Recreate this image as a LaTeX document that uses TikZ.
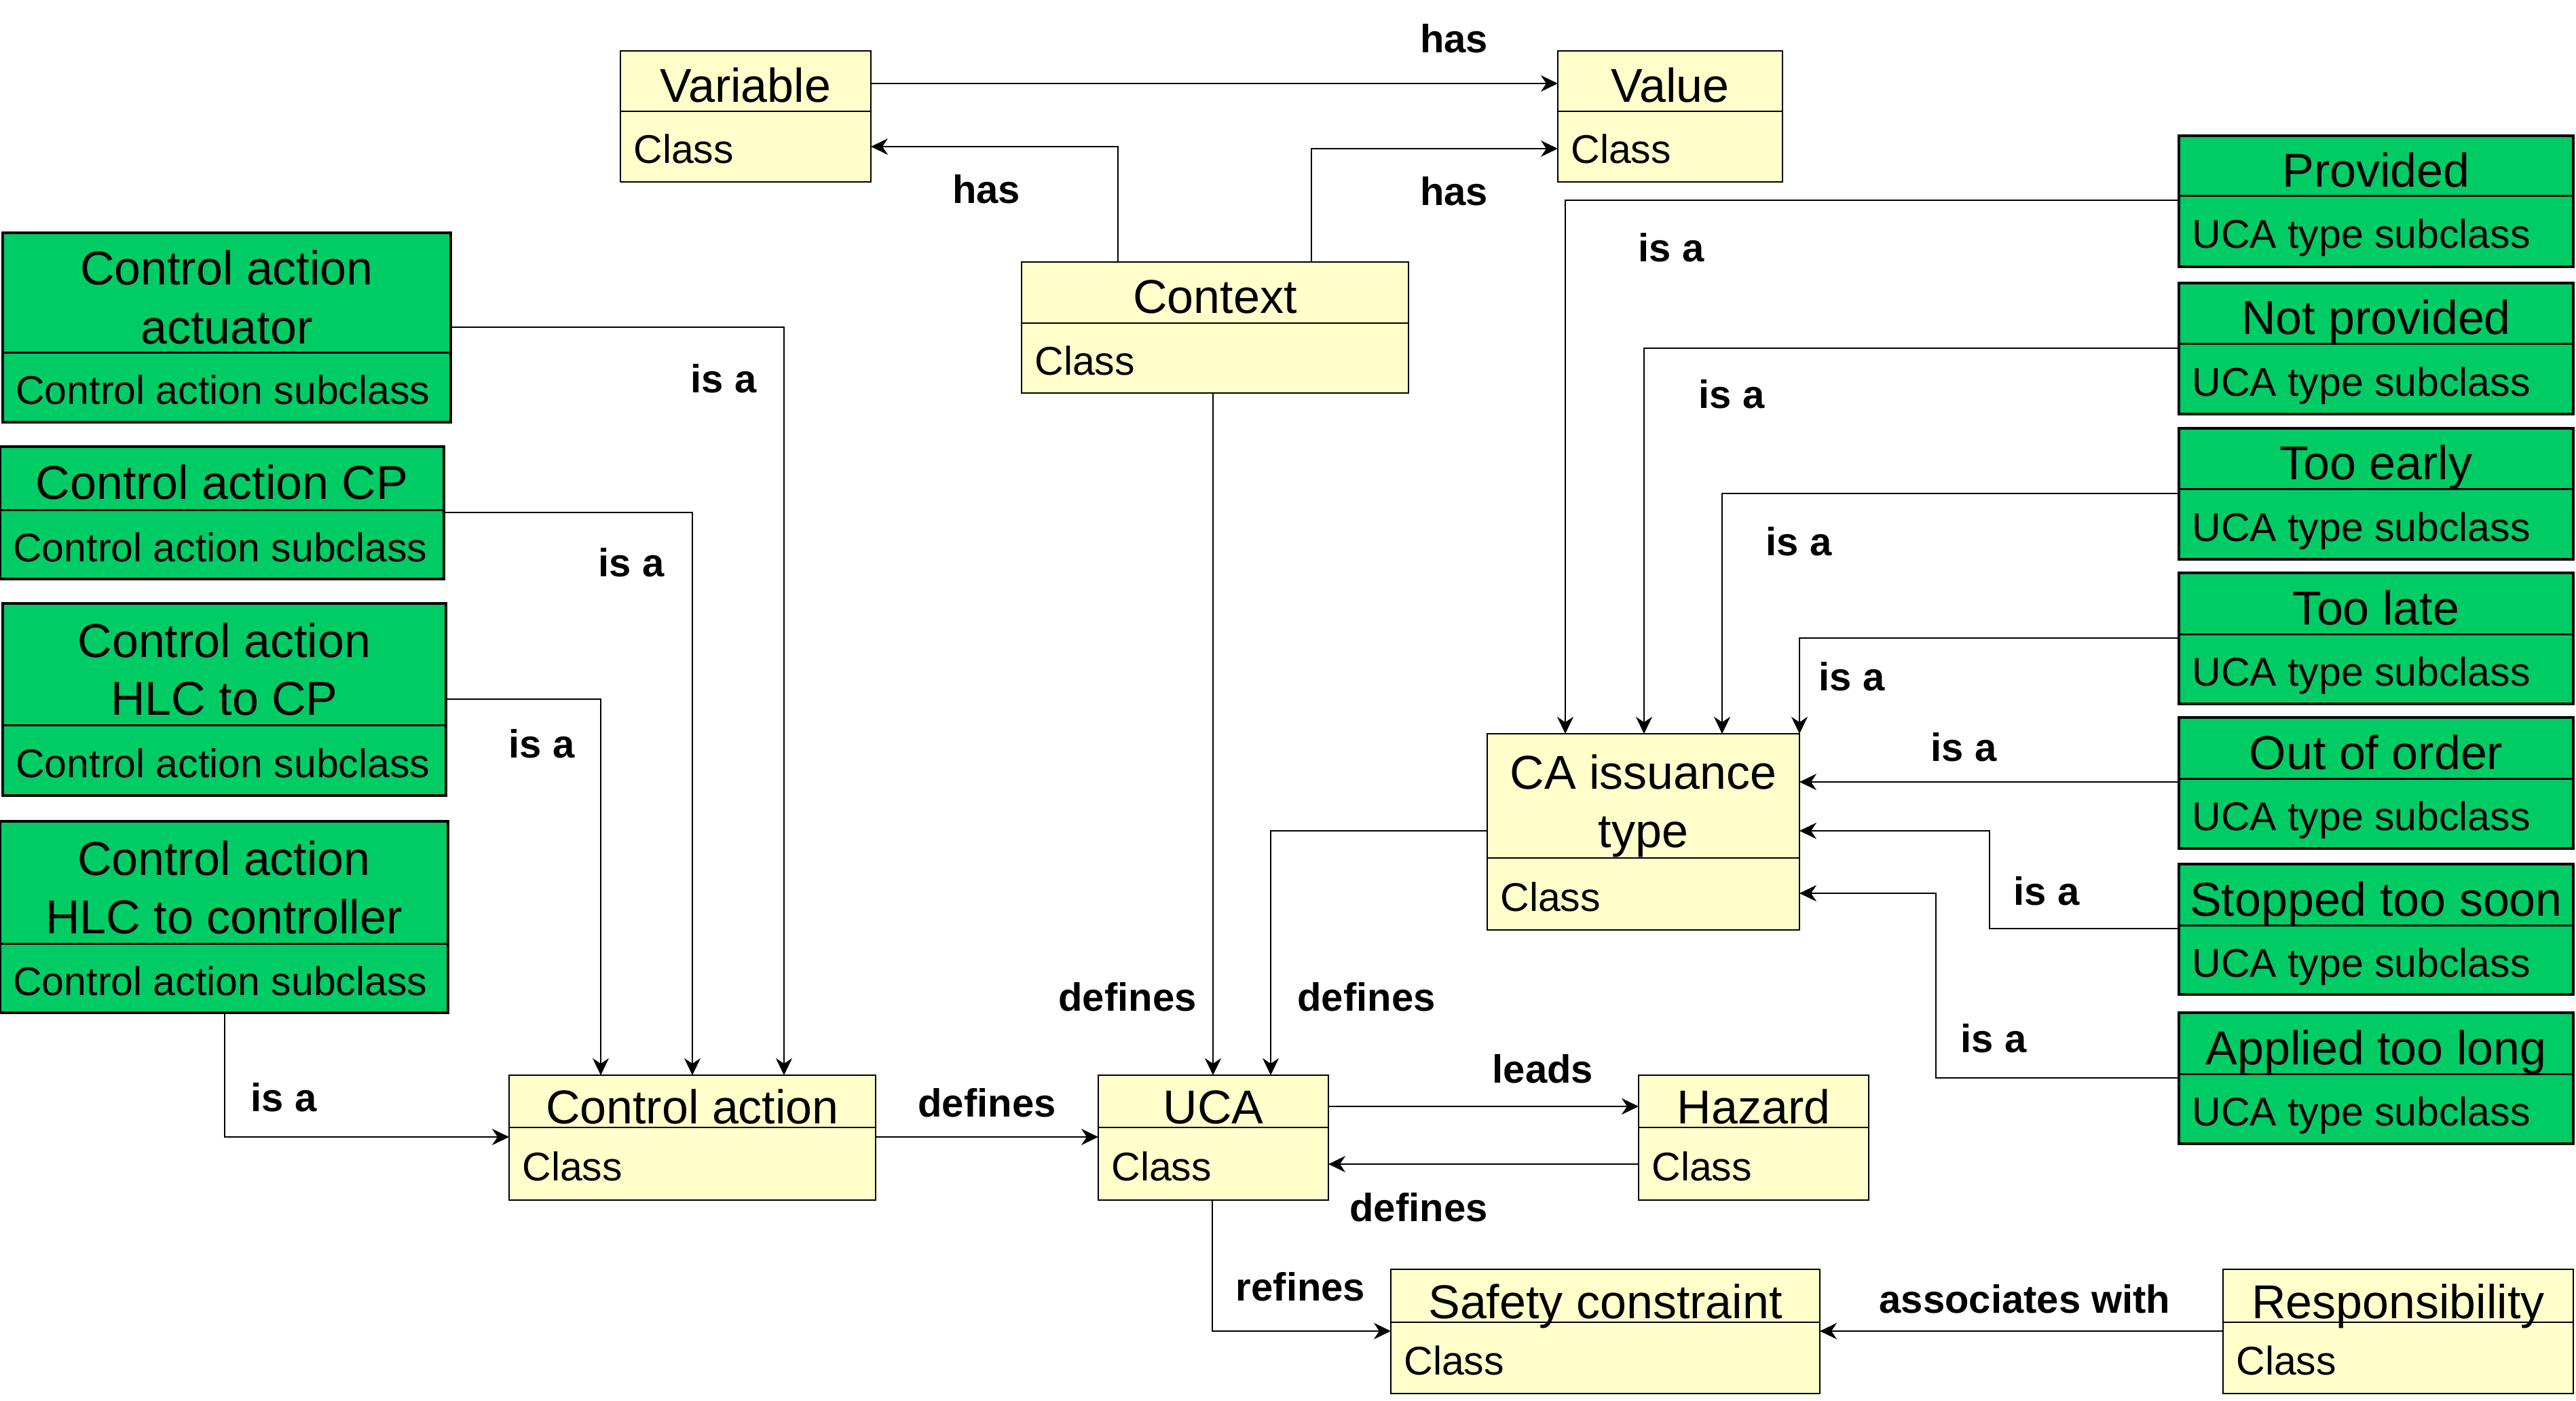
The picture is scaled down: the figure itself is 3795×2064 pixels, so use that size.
\documentclass[tikz,border=0pt]{standalone}
\usepackage{fontspec}
\setmainfont{Liberation Sans}
\usetikzlibrary{arrows.meta}
\definecolor{ayellow}{HTML}{FFFFCC}
\definecolor{agreen}{HTML}{00CC66}
\tikzset{
  ybox/.style={draw=black, fill=ayellow, line width=1.2pt, inner sep=0pt, outer sep=0pt},
  gbox/.style={draw=black, fill=agreen, line width=1.8pt, inner sep=0pt, outer sep=0pt},
  yboxdiv/.style={draw=black, line width=1.1pt},
  gboxdiv/.style={draw=black, line width=1.5pt},
  ttl/.style={font=\fontsize{35}{42}\selectfont, inner sep=0pt, anchor=base},
  sub/.style={font=\fontsize{29.5}{35}\selectfont, inner sep=0pt, anchor=base west},
  lbl/.style={font=\bfseries\fontsize{29}{35}\selectfont, inner sep=0pt},
  conn/.style={line width=1.2pt, -{Stealth[length=12.5pt, width=12pt, inset=4pt]}},
}
\newcommand{\umlbox}[8]{%
  \node[#1, anchor=north west, minimum width={(#6-#3)*0.5pt}, minimum height={(#7-#4)*0.5pt}] (#2) at (#3,#4) {};
  \draw[#1div] (#3,#5) -- (#6,#5);
  \node[sub] (#2-sub) at ({#3+19},{(#5+#7)/2+25}) {#8};
}
\begin{document}
\begin{tikzpicture}[x=0.5pt, y=-0.5pt]
\useasboundingbox (0,0) rectangle (3795,2064);
\fill[white] (0,0) rectangle (3795,2064);

% yellow classes
\umlbox{ybox}{var}{914}{75}{164}{1283}{268}{Class}
\node[ttl] (var-t) at (1098.5,150.5) {Variable};
\umlbox{ybox}{val}{2295}{75}{164}{2626}{268}{Class}
\node[ttl] (val-t) at (2460.5,150.5) {Value};
\umlbox{ybox}{ctx}{1505}{386}{476}{2075}{579}{Class}
\node[ttl] (ctx-t) at (1790,462) {Context};
\umlbox{ybox}{cai}{2191}{1081}{1264}{2651}{1370}{Class}
\node[ttl] (cai-t1) at (2421,1162) {CA issuance};
\node[ttl] (cai-t2) at (2421,1248) {type};
\umlbox{ybox}{ca}{750}{1584}{1661}{1290}{1768}{Class}
\node[ttl] (ca-t) at (1020,1655) {Control action};
\umlbox{ybox}{uca}{1618}{1584}{1661}{1957}{1768}{Class}
\node[ttl] (uca-t) at (1787.5,1655) {UCA};
\umlbox{ybox}{haz}{2414}{1584}{1661}{2753}{1768}{Class}
\node[ttl] (haz-t) at (2583.5,1655) {Hazard};
\umlbox{ybox}{sc}{2049}{1870}{1948}{2681}{2053}{Class}
\node[ttl] (sc-t) at (2365,1942) {Safety constraint};
\umlbox{ybox}{resp}{3275}{1870}{1948}{3791}{2053}{Class}
\node[ttl] (resp-t) at (3533,1942) {Responsibility};

% green control action subclasses
\umlbox{gbox}{caa}{4}{343}{520}{664}{622}{Control action subclass}
\node[ttl] (caa-t1) at (334,420) {Control action};
\node[ttl] (caa-t2) at (334,507) {actuator};
\umlbox{gbox}{cacp}{0}{658}{751}{654}{853}{Control action subclass}
\node[ttl] (cacp-t) at (327,735.5) {Control action CP};
\umlbox{gbox}{cahcp}{4}{889}{1068}{657}{1172}{Control action subclass}
\node[ttl] (cahcp-t1) at (330.5,968) {Control action};
\node[ttl] (cahcp-t2) at (330.5,1053) {HLC to CP};
\umlbox{gbox}{cahc}{0}{1210}{1390}{660}{1492}{Control action subclass}
\node[ttl] (cahc-t1) at (330,1289) {Control action};
\node[ttl] (cahc-t2) at (330,1375) {HLC to controller};

% green UCA type subclasses
\umlbox{gbox}{prov}{3210}{200}{289}{3791}{393}{UCA type subclass}
\node[ttl] (prov-t) at (3500.5,275.5) {Provided};
\umlbox{gbox}{notp}{3210}{417}{507}{3791}{610}{UCA type subclass}
\node[ttl] (notp-t) at (3500.5,493) {Not provided};
\umlbox{gbox}{early}{3210}{631}{720}{3791}{824}{UCA type subclass}
\node[ttl] (early-t) at (3500.5,706.5) {Too early};
\umlbox{gbox}{late}{3210}{844}{934}{3791}{1037}{UCA type subclass}
\node[ttl] (late-t) at (3500.5,920) {Too late};
\umlbox{gbox}{ooo}{3210}{1057}{1147}{3791}{1250}{UCA type subclass}
\node[ttl] (ooo-t) at (3500.5,1133) {Out of order};
\umlbox{gbox}{stop}{3210}{1273}{1363}{3791}{1465}{UCA type subclass}
\node[ttl] (stop-t) at (3500.5,1349) {Stopped too soon};
\umlbox{gbox}{appl}{3210}{1492}{1582}{3791}{1685}{UCA type subclass}
\node[ttl] (appl-t) at (3500.5,1568) {Applied too long};

% connectors
\draw[conn] (var.east |- 0,123) -- (val.west |- 0,123);
\draw[conn] (ctx.north -| 1647,0) |- (var.east |- 0,216);
\draw[conn] (ctx.north -| 1932,0) |- (val.west |- 0,219);
\draw[conn] (ctx.south -| 1787,0) -- (uca.north -| 1787,0);
\draw[conn] (caa.east |- 0,482) -| (ca.north -| 1155,0);
\draw[conn] (cacp.east |- 0,755) -| (ca.north -| 1020,0);
\draw[conn] (cahcp.east |- 0,1030) -| (ca.north -| 885,0);
\draw[conn] (cahc.south -| 331,0) |- (ca.west |- 0,1675);
\draw[conn] (ca.east |- 0,1675) -- (uca.west |- 0,1675);
\draw[conn] (cai.west |- 0,1224) -| (uca.north -| 1872,0);
\draw[conn] (uca.east |- 0,1630) -- (haz.west |- 0,1630);
\draw[conn] (haz.west |- 0,1715) -- (uca.east |- 0,1715);
\draw[conn] (uca.south -| 1786,0) |- (sc.west |- 0,1961);
\draw[conn] (resp.west |- 0,1961) -- (sc.east |- 0,1961);
\draw[conn] (prov.west |- 0,295) -| (cai.north -| 2306,0);
\draw[conn] (notp.west |- 0,513) -| (cai.north -| 2422,0);
\draw[conn] (early.west |- 0,727) -| (cai.north -| 2537,0);
\draw[conn] (late.west |- 0,940) -| (cai.north east);
\draw[conn] (ooo.west |- 0,1152) -- (cai.east |- 0,1152);
\draw[conn] (stop.west |- 0,1368) -| (2931,1224) -- (cai.east |- 0,1224);
\draw[conn] (appl.west |- 0,1588) -| (2852,1316) -- (cai.east |- 0,1316);

% labels
\node[lbl] (l-has1) at (2142,57) {has};
\node[lbl] (l-has2) at (1453,279) {has};
\node[lbl] (l-has3) at (2142,282) {has};
\node[lbl] (l-isa1) at (1066,558) {is a};
\node[lbl] (l-isa2) at (930,829) {is a};
\node[lbl] (l-isa3) at (798,1096) {is a};
\node[lbl] (l-isa4) at (418,1617) {is a};
\node[lbl] (l-def1) at (1454,1625) {defines};
\node[lbl] (l-def2) at (1661,1469) {defines};
\node[lbl] (l-def3) at (2013,1469) {defines};
\node[lbl] (l-leads) at (2273,1575) {leads};
\node[lbl] (l-def4) at (2090,1779) {defines};
\node[lbl] (l-ref) at (1916,1896) {refines};
\node[lbl] (l-assoc) at (2983,1914) {associates with};
\node[lbl] (l-isa5) at (2462,365) {is a};
\node[lbl] (l-isa6) at (2551,581) {is a};
\node[lbl] (l-isa7) at (2650,798) {is a};
\node[lbl] (l-isa8) at (2728,997) {is a};
\node[lbl] (l-isa9) at (2893,1101) {is a};
\node[lbl] (l-isa10) at (3015,1313) {is a};
\node[lbl] (l-isa11) at (2937,1530) {is a};
\end{tikzpicture}
\end{document}
